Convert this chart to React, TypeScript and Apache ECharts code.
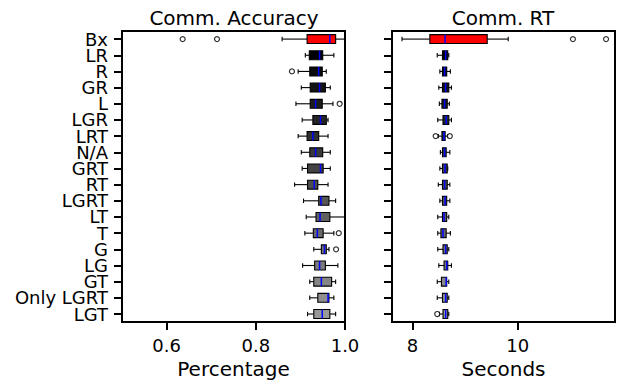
import React, { useEffect, useRef } from "react";
import * as echarts from "echarts";

const categories = ["Bx", "LR", "R", "GR", "L", "LGR", "LRT", "N/A", "GRT", "RT", "LGRT", "LT", "T", "G", "LG", "GT", "Only LGRT", "LGT"];

const boxColors = ["#ff0000", "#000000", "#0a0a0a", "#131313", "#1d1d1d", "#262626", "#303030", "#393939", "#434343", "#4d4d4d", "#565656", "#606060", "#696969", "#737373", "#7c7c7c", "#868686", "#8f8f8f", "#999999"];

// Comm. Accuracy (Percentage)
const accLow = [0.859, 0.911, 0.895, 0.902, 0.890, 0.904, 0.895, 0.902, 0.904, 0.887, 0.907, 0.913, 0.910, 0.930, 0.905, 0.921, 0.921, 0.916];
const accQ1 = [0.915, 0.920, 0.921, 0.922, 0.922, 0.928, 0.915, 0.921, 0.916, 0.916, 0.941, 0.935, 0.929, 0.947, 0.932, 0.930, 0.939, 0.930];
const accMed = [0.966, 0.943, 0.941, 0.943, 0.934, 0.945, 0.928, 0.934, 0.945, 0.931, 0.946, 0.944, 0.938, 0.954, 0.943, 0.947, 0.962, 0.949];
const accQ3 = [0.979, 0.950, 0.949, 0.956, 0.949, 0.958, 0.941, 0.950, 0.951, 0.939, 0.964, 0.966, 0.951, 0.958, 0.956, 0.970, 0.964, 0.966];
const accHigh = [1.0, 0.975, 0.958, 0.967, 0.973, 0.962, 0.962, 0.967, 0.967, 0.962, 0.979, 1.0, 0.975, 0.964, 0.984, 0.979, 0.975, 0.979];
const accOutliers = [[0, 0.636], [0, 0.713], [2, 0.881], [4, 0.988], [12, 0.986], [13, 0.980]];

// Comm. RT (Seconds)
const rtLow = [7.80, 8.47, 8.52, 8.50, 8.51, 8.48, 8.49, 8.53, 8.52, 8.49, 8.52, 8.48, 8.48, 8.48, 8.50, 8.47, 8.47, 8.51];
const rtQ1 = [8.33, 8.57, 8.57, 8.57, 8.56, 8.58, 8.56, 8.57, 8.57, 8.57, 8.57, 8.57, 8.54, 8.58, 8.60, 8.55, 8.57, 8.58];
const rtMed = [8.62, 8.63, 8.61, 8.63, 8.61, 8.64, 8.60, 8.61, 8.62, 8.61, 8.62, 8.60, 8.58, 8.63, 8.65, 8.64, 8.63, 8.63];
const rtQ3 = [9.42, 8.67, 8.65, 8.69, 8.66, 8.69, 8.62, 8.64, 8.66, 8.66, 8.65, 8.65, 8.64, 8.66, 8.67, 8.65, 8.66, 8.67];
const rtHigh = [9.82, 8.69, 8.72, 8.74, 8.70, 8.74, 8.67, 8.71, 8.67, 8.71, 8.71, 8.69, 8.72, 8.69, 8.74, 8.69, 8.69, 8.69];
const rtOutliers = [[0, 11.05], [0, 11.68], [6, 8.44], [6, 8.71], [17, 8.47]];

const accTicks = [0.6, 0.8, 1.0];
const rtTicks = [8, 10];

const FONT = "DejaVu Sans";

function boxData(lo: number[], q1: number[], md: number[], q3: number[], hi: number[]) {
  return categories.map((_, i) => [i, lo[i], q1[i], md[i], q3[i], hi[i]]);
}

function renderBox(params: any, api: any) {
  const ci = api.value(0);
  const lo = api.coord([api.value(1), ci]);
  const q1 = api.coord([api.value(2), ci]);
  const md = api.coord([api.value(3), ci]);
  const q3 = api.coord([api.value(4), ci]);
  const hi = api.coord([api.value(5), ci]);
  const band = api.size([0, 1])[1];
  const bh = band * 0.55;
  const ch = bh * 0.5;
  const y = lo[1];
  const line = { stroke: "#000", lineWidth: 1.1 };
  return {
    type: "group",
    children: [
      { type: "line", shape: { x1: lo[0], y1: y, x2: q1[0], y2: y }, style: line },
      { type: "line", shape: { x1: q3[0], y1: y, x2: hi[0], y2: y }, style: line },
      { type: "line", shape: { x1: lo[0], y1: y - ch / 2, x2: lo[0], y2: y + ch / 2 }, style: line },
      { type: "line", shape: { x1: hi[0], y1: y - ch / 2, x2: hi[0], y2: y + ch / 2 }, style: line },
      {
        type: "rect",
        shape: { x: q1[0], y: y - bh / 2, width: q3[0] - q1[0], height: bh },
        style: { fill: boxColors[ci], stroke: "#000", lineWidth: 1.1 },
      },
      {
        type: "line",
        shape: { x1: md[0], y1: y - bh / 2, x2: md[0], y2: y + bh / 2 },
        style: { stroke: "#0000ff", lineWidth: 1.5 },
      },
    ],
  };
}

export default function App() {
  const ref = useRef<HTMLDivElement>(null);
  useEffect(() => {
    if (!ref.current) return;
    const chart = echarts.init(ref.current, null, { renderer: "svg" });
    const axisTick = { show: true, inside: false, length: 8, lineStyle: { color: "#000", width: 2 } };
    const labelStyle = { color: "#000", fontSize: 18, fontFamily: FONT, lineHeight: 16 };
    const nameStyle = { color: "#000", fontSize: 20, fontFamily: FONT };
    const yAxisBase = {
      type: "category",
      data: categories,
      inverse: true,
      axisLine: { show: false },
      axisTick: { ...axisTick, alignWithLabel: true, interval: 0 },
      splitLine: { show: false },
    };
    chart.setOption({
      animation: false,
      backgroundColor: "#fff",
      graphic: [
        { type: "text", x: 234, y: 18, style: { text: "Comm. Accuracy", font: `20px "${FONT}"`, fill: "#000", align: "center", verticalAlign: "middle" } },
        { type: "text", x: 503, y: 18, style: { text: "Comm. RT", font: `20px "${FONT}"`, fill: "#000", align: "center", verticalAlign: "middle" } },
      ],
      grid: [
        { left: 122, top: 31, width: 223, height: 295, show: true, borderColor: "#000", borderWidth: 2, backgroundColor: "transparent" },
        { left: 392, top: 31, width: 223, height: 295, show: true, borderColor: "#000", borderWidth: 2, backgroundColor: "transparent" },
      ],
      xAxis: [
        {
          type: "value", gridIndex: 0, min: 0.5, max: 1.0,
          name: "Percentage", nameLocation: "middle", nameGap: 33, nameTextStyle: nameStyle,
          axisLine: { show: false },
          axisTick: { ...axisTick, customValues: accTicks },
          axisLabel: { ...labelStyle, margin: 15, customValues: accTicks, formatter: (v: number) => v.toFixed(1) },
          splitLine: { show: false },
        },
        {
          type: "value", gridIndex: 1, min: 7.61, max: 11.85,
          name: "Seconds", nameLocation: "middle", nameGap: 33, nameTextStyle: nameStyle,
          axisLine: { show: false },
          axisTick: { ...axisTick, customValues: rtTicks },
          axisLabel: { ...labelStyle, margin: 15, customValues: rtTicks, formatter: (v: number) => String(Math.round(v)) },
          splitLine: { show: false },
        },
      ],
      yAxis: [
        { ...yAxisBase, gridIndex: 0, axisLabel: { ...labelStyle, interval: 0, margin: 14 } },
        { ...yAxisBase, gridIndex: 1, axisLabel: { show: false } },
      ],
      series: [
        {
          type: "custom", xAxisIndex: 0, yAxisIndex: 0,
          renderItem: renderBox,
          encode: { x: [1, 2, 3, 4, 5], y: 0 },
          data: boxData(accLow, accQ1, accMed, accQ3, accHigh),
          clip: false,
        },
        {
          type: "scatter", xAxisIndex: 0, yAxisIndex: 0,
          symbol: "circle", symbolSize: 5,
          itemStyle: { color: "#fff", borderColor: "#000", borderWidth: 1.2 },
          data: accOutliers.map((d) => [d[1], d[0]]),
        },
        {
          type: "custom", xAxisIndex: 1, yAxisIndex: 1,
          renderItem: renderBox,
          encode: { x: [1, 2, 3, 4, 5], y: 0 },
          data: boxData(rtLow, rtQ1, rtMed, rtQ3, rtHigh),
          clip: false,
        },
        {
          type: "scatter", xAxisIndex: 1, yAxisIndex: 1,
          symbol: "circle", symbolSize: 5,
          itemStyle: { color: "#fff", borderColor: "#000", borderWidth: 1.2 },
          data: rtOutliers.map((d) => [d[1], d[0]]),
        },
      ],
    });
    return () => chart.dispose();
  }, []);
  return <div ref={ref} style={{ position: "fixed", left: 0, top: 0, width: 617, height: 384 }} />;
}
